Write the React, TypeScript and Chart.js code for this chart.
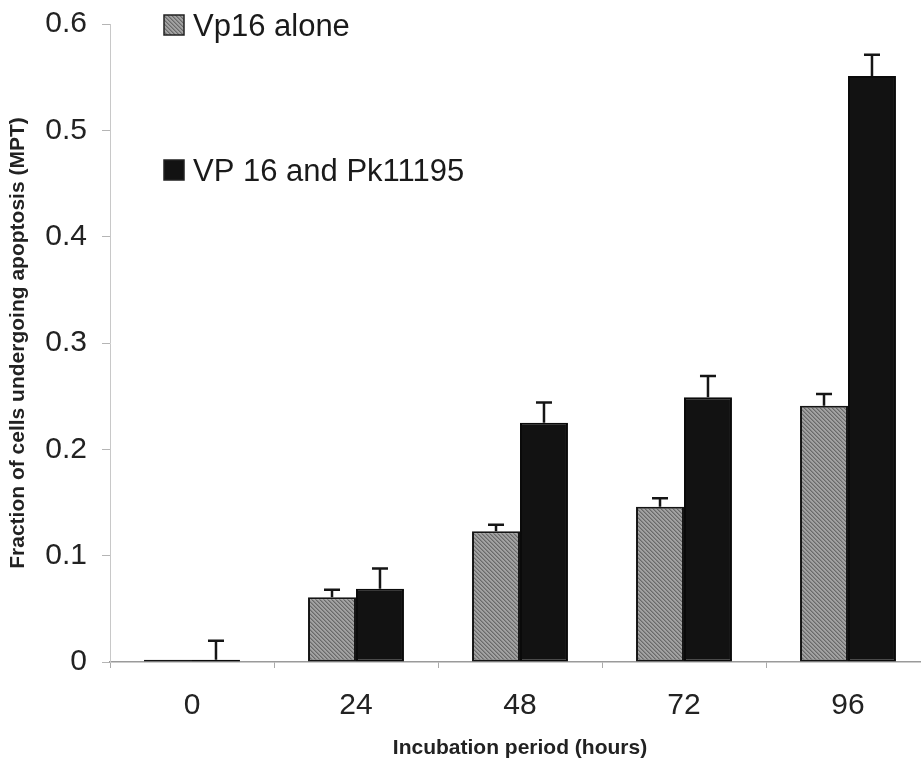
import React, { useEffect, useRef } from "react";
import { Chart, registerables } from "chart.js";

Chart.register(...registerables);

const categories = ["0", "24", "48", "72", "96"];
const seriesLabels = ["Vp16 alone", "VP 16 and Pk11195"];
const vp16Alone = [0.002, 0.061, 0.123, 0.146, 0.241];
const vp16AloneErr = [0, 0.007, 0.006, 0.008, 0.011];
const vp16Pk = [0.002, 0.069, 0.225, 0.249, 0.551];
const vp16PkErr = [0.018, 0.019, 0.019, 0.02, 0.02];
const yMin = 0;
const yMax = 0.6;
const yStep = 0.1;
const xTitle = "Incubation period (hours)";
const yTitle = "Fraction of cells undergoing apoptosis (MPT)";

const FONT = "'Liberation Sans', Arial, Helvetica, sans-serif";

function makeHatch(): CanvasPattern | string {
  const c = document.createElement("canvas");
  c.width = 4;
  c.height = 4;
  const g = c.getContext("2d");
  if (!g) return "#8c8c8c";
  g.fillStyle = "#a2a2a2";
  g.fillRect(0, 0, 4, 4);
  g.fillStyle = "#6a6a6a";
  g.fillRect(0, 0, 1, 1);
  g.fillRect(1, 1, 1, 1);
  g.fillRect(2, 2, 1, 1);
  g.fillRect(3, 3, 1, 1);
  g.fillStyle = "#868686";
  g.fillRect(1, 0, 1, 1);
  g.fillRect(2, 1, 1, 1);
  g.fillRect(3, 2, 1, 1);
  g.fillRect(0, 3, 1, 1);
  const p = g.createPattern(c, "repeat");
  return p || "#8c8c8c";
}

const errorBarPlugin = {
  id: "errorBars",
  afterDatasetsDraw(chart: any) {
    const ctx = chart.ctx;
    const y = chart.scales.y;
    const errs = [vp16AloneErr, vp16PkErr];
    const vals = [vp16Alone, vp16Pk];
    ctx.save();
    ctx.strokeStyle = "#151515";
    ctx.lineWidth = 2.5;
    chart.data.datasets.forEach((_: any, di: number) => {
      const meta = chart.getDatasetMeta(di);
      meta.data.forEach((bar: any, i: number) => {
        const e = errs[di][i];
        if (!e) return;
        const top = y.getPixelForValue(vals[di][i] + e);
        const base = y.getPixelForValue(vals[di][i]);
        ctx.beginPath();
        ctx.moveTo(bar.x, base);
        ctx.lineTo(bar.x, top);
        ctx.moveTo(bar.x - 8, top);
        ctx.lineTo(bar.x + 8, top);
        ctx.stroke();
      });
    });
    ctx.restore();
  },
};

const legendPlugin = {
  id: "insideLegend",
  afterDraw(chart: any) {
    const ctx = chart.ctx;
    const area = chart.chartArea;
    const rows = [area.top - 9, area.top + 136];
    ctx.save();
    chart.data.datasets.forEach((ds: any, i: number) => {
      const x = area.left + 54;
      const yTop = rows[i];
      ctx.fillStyle = ds.backgroundColor;
      ctx.fillRect(x, yTop, 20, 20);
      ctx.strokeStyle = "#222";
      ctx.lineWidth = 1.5;
      ctx.strokeRect(x, yTop, 20, 20);
      ctx.fillStyle = "#1a1a1a";
      ctx.font = `31px ${FONT}`;
      ctx.textBaseline = "alphabetic";
      ctx.textAlign = "left";
      ctx.fillText(ds.label, x + 29, yTop + 21);
    });
    ctx.restore();
  },
};

export default function App() {
  const ref = useRef<HTMLCanvasElement | null>(null);
  useEffect(() => {
    document.body.style.margin = "0";
    const canvas = ref.current;
    if (!canvas) return;
    const hatch = makeHatch();
    const chart = new Chart(canvas, {
      type: "bar",
      data: {
        labels: categories,
        datasets: [
          {
            label: seriesLabels[0],
            data: vp16Alone,
            backgroundColor: hatch as any,
            borderColor: "#151515",
            borderWidth: 2,
            borderSkipped: false,
            categoryPercentage: 0.585,
            barPercentage: 1,
          },
          {
            label: seriesLabels[1],
            data: vp16Pk,
            backgroundColor: "#121212",
            borderColor: "#0a0a0a",
            borderWidth: 2,
            borderSkipped: false,
            categoryPercentage: 0.585,
            barPercentage: 1,
          },
        ],
      },
      options: {
        animation: false,
        responsive: false,
        devicePixelRatio: 1,
        layout: { padding: { top: 24, left: 0, right: 0, bottom: 0 } },
        plugins: {
          legend: { display: false },
          tooltip: { enabled: false },
        },
        scales: {
          x: {
            afterFit: (s: any) => {
              s.height = 103;
              s.paddingLeft = 0;
              s.paddingRight = 0;
            },
            grid: {
              drawOnChartArea: false,
              drawTicks: true,
              tickLength: 6,
              color: "#aaaaaa",
              offset: true,
            },
            border: { display: true, color: "#9a9a9a", width: 1.5 },
            ticks: {
              color: "#222",
              font: { family: FONT, size: 30 },
              padding: 20,
            },
            title: {
              display: true,
              text: xTitle,
              color: "#222",
              font: { family: FONT, size: 21, weight: "bold" },
              padding: { top: 6, bottom: 4 },
            },
          },
          y: {
            min: yMin,
            max: yMax,
            afterFit: (s: any) => {
              s.width = 110;
              s.paddingTop = 0;
              s.paddingBottom = 0;
            },
            grid: {
              drawOnChartArea: false,
              drawTicks: true,
              tickLength: 8,
              color: "#b5b5b5",
            },
            border: { display: true, color: "#c8c8c8", width: 1 },
            ticks: {
              stepSize: yStep,
              color: "#222",
              font: { family: FONT, size: 30 },
              padding: 15,
            },
            title: {
              display: true,
              text: yTitle,
              color: "#222",
              font: { family: FONT, size: 21, weight: "bold" },
              padding: { top: 6, bottom: 0 },
            },
          },
        },
      },
      plugins: [errorBarPlugin, legendPlugin],
    });
    return () => chart.destroy();
  }, []);
  return (
    <div style={{ width: 921, height: 765, overflow: "hidden", background: "#fff" }}>
      <canvas ref={ref} width={930} height={765} style={{ width: 930, height: 765, display: "block" }} />
    </div>
  );
}
